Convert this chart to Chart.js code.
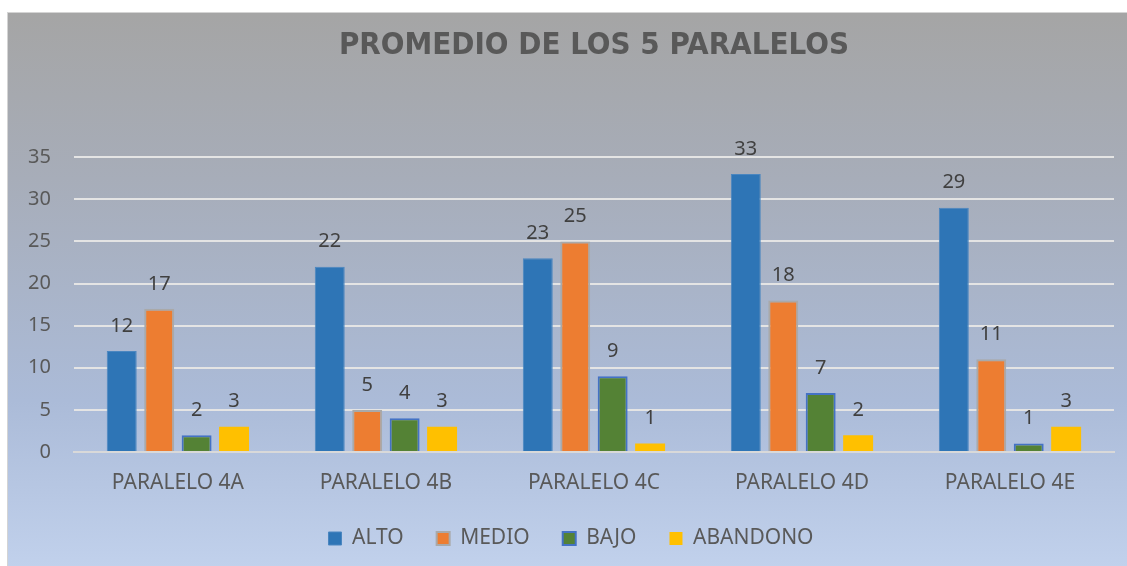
<!DOCTYPE html>
<html>
<head>
<meta charset="utf-8">
<script src="https://cdn.jsdelivr.net/npm/chart.js@4/dist/chart.umd.min.js"></script>
<style>
    html, body { margin: 0; padding: 0; background: #ffffff; }
    #wrap {
        position: absolute; left: 7px; top: 12px; width: 1120px; height: 554px;
        border-left: 1px solid #d4d4d4; border-top: 1px solid #d4d4d4;
        background: linear-gradient(to bottom, #a5a5a5 0%, #a7adb9 30%, #abbbd8 70%, #c1d1ec 100%);
    }
</style>
</head>
<body>
<div id="wrap"><canvas id="promedioChart"></canvas></div>
<script>
const categories = ['PARALELO 4A', 'PARALELO 4B', 'PARALELO 4C', 'PARALELO 4D', 'PARALELO 4E'];
const alto = [12, 22, 23, 33, 29];
const medio = [17, 5, 25, 18, 11];
const bajo = [2, 4, 9, 7, 1];
const abandono = [3, 3, 1, 2, 3];
const yTicks = [0, 5, 10, 15, 20, 25, 30, 35];

const FONT = "'Noto Sans', 'Open Sans', sans-serif";

// draw the value above each bar
const valueLabels = {
    id: 'valueLabels',
    afterDatasetsDraw(chart) {
        const ctx = chart.ctx;
        ctx.save();
        ctx.font = '20px ' + FONT;
        ctx.fillStyle = '#404040';
        ctx.textAlign = 'center';
        ctx.textBaseline = 'bottom';
        chart.data.datasets.forEach((ds, i) => {
            chart.getDatasetMeta(i).data.forEach((bar, j) => {
                ctx.fillText(ds.data[j], bar.x, bar.y - 15);
            });
        });
        ctx.restore();
    }
};

const ctx = document.getElementById('promedioChart').getContext('2d');
new Chart(ctx, {
    type: 'bar',
    data: {
        labels: categories,
        datasets: [
            { label: 'ALTO', data: alto, backgroundColor: '#2e75b6', borderColor: '#4a86c0', borderWidth: 1 },
            { label: 'MEDIO', data: medio, backgroundColor: '#ed7d31', borderColor: '#a9a9a9', borderWidth: 2 },
            { label: 'BAJO', data: bajo, backgroundColor: '#548235', borderColor: '#4472c4', borderWidth: 2 },
            { label: 'ABANDONO', data: abandono, backgroundColor: '#ffc000', borderWidth: 0 }
        ]
    },
    options: {
        responsive: true,
        maintainAspectRatio: false,
        animation: false,
        datasets: { bar: { categoryPercentage: 0.72, barPercentage: 0.8 } },
        layout: { padding: { left: 20, right: 14, top: 0, bottom: 8 } },
        scales: {
            x: {
                grid: { display: false, drawTicks: false },
                border: { display: true, color: '#d9d9d9', width: 2 },
                ticks: { color: '#595959', font: { family: FONT, size: 21 }, padding: 18 },
                // chart.js pads below the labels too; drop that
                afterFit: scale => { scale.height = 43; }
            },
            y: {
                min: 0,
                max: 35,
                afterBuildTicks: axis => { axis.ticks = yTicks.map(v => ({ value: v })); },
                grid: { color: '#e4e4e4', lineWidth: 2, drawTicks: false },
                border: { display: false },
                ticks: { color: '#595959', font: { family: FONT, size: 20 }, padding: 23 },
                afterFit: scale => { scale.width -= 23; }
            }
        },
        plugins: {
            title: {
                display: true,
                fullSize: false,
                text: 'PROMEDIO DE LOS 5 PARALELOS',
                color: '#595959',
                font: { family: "'Liberation Sans Narrow', 'DejaVu Sans Condensed', sans-serif", size: 31, weight: 'bold' },
                padding: { top: 14, bottom: 93 }
            },
            legend: {
                position: 'bottom',
                labels: {
                    color: '#595959',
                    font: { family: FONT, size: 21 },
                    boxWidth: 13,
                    boxHeight: 13,
                    padding: 33,
                    useBorderRadius: false
                }
            },
            tooltip: { enabled: false }
        }
    },
    plugins: [valueLabels]
});
</script>
</body>
</html>
